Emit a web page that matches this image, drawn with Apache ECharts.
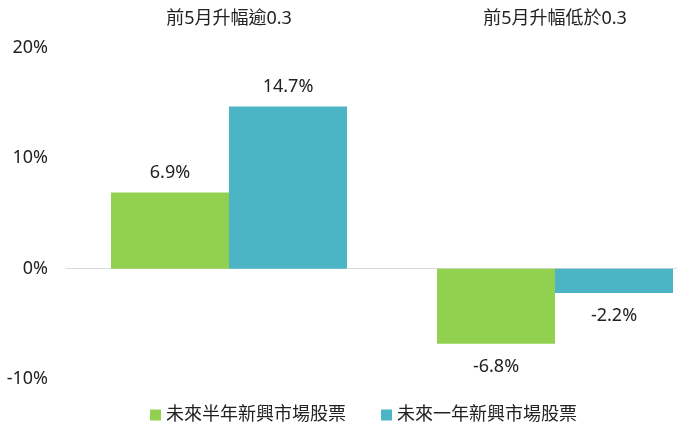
<!DOCTYPE html>
<html>
<head>
<meta charset="utf-8">
<script src="https://cdn.jsdelivr.net/npm/echarts@6/dist/echarts.min.js"></script>
<style>html,body{margin:0;padding:0;background:#fff}#c{width:680px;height:427px}</style>
</head>
<body>
<div id="c"></div>
<script>
var categories = ['前5月升幅逾0.3', '前5月升幅低於0.3'];
var seriesNames = ['未來半年新興市場股票', '未來一年新興市場股票'];
var halfYear = [6.9, -6.8];
var oneYear = [14.7, -2.2];
var yTicks = [-10, 0, 10, 20];

var FONT = '"Noto Sans", "Noto Sans CJK TC", sans-serif';
function mk(vals) {
  return vals.map(function (v) {
    return { value: v, label: { position: v >= 0 ? 'top' : 'bottom', distance: v >= 0 ? 11 : 14 } };
  });
}
var yMin = yTicks[0], yMax = yTicks[yTicks.length - 1];
var chart = echarts.init(document.getElementById('c'));
chart.setOption({
  animation: false,
  textStyle: { fontFamily: FONT },
  grid: [
    { left: 66, right: 4, top: 48, bottom: 48 },
    { left: 229, width: 326, top: 48, bottom: 48 }
  ],
  legend: {
    left: 145, top: 401,
    itemWidth: 11, itemHeight: 11, itemGap: 35,
    icon: 'rect',
    textStyle: { fontSize: 18, color: '#222', fontFamily: FONT },
    data: seriesNames
  },
  xAxis: [
    {
      gridIndex: 0, type: 'category', data: categories,
      axisLine: { show: true, onZero: true, lineStyle: { color: '#d9d9d9', width: 1 } },
      axisTick: { show: false }, axisLabel: { show: false }, splitLine: { show: false }
    },
    {
      gridIndex: 1, type: 'category', data: categories, position: 'top', boundaryGap: false,
      axisLine: { show: false, onZero: false }, axisTick: { show: false }, splitLine: { show: false },
      axisLabel: { fontSize: 18, color: '#222', margin: 20, fontFamily: FONT }
    }
  ],
  yAxis: [
    {
      gridIndex: 0, type: 'value', min: yMin, max: yMax, interval: 10,
      splitLine: { show: false }, axisLine: { show: false }, axisTick: { show: false },
      axisLabel: { formatter: '{value}%', fontSize: 18, color: '#222', margin: 18, fontFamily: FONT }
    },
    {
      gridIndex: 1, type: 'value', min: yMin, max: yMax, interval: 10, show: false
    }
  ],
  series: [
    {
      name: seriesNames[0], type: 'bar', xAxisIndex: 1, yAxisIndex: 1, clip: false,
      data: mk(halfYear), barWidth: 118, barGap: '0%',
      itemStyle: { color: '#92D050' },
      label: { show: true, formatter: '{c}%', fontSize: 18, color: '#222', fontFamily: FONT }
    },
    {
      name: seriesNames[1], type: 'bar', xAxisIndex: 1, yAxisIndex: 1, clip: false,
      data: mk(oneYear), barWidth: 118, barGap: '0%',
      itemStyle: { color: '#4BB5C6' },
      label: { show: true, formatter: '{c}%', fontSize: 18, color: '#222', fontFamily: FONT }
    }
  ]
});
</script>
</body>
</html>
